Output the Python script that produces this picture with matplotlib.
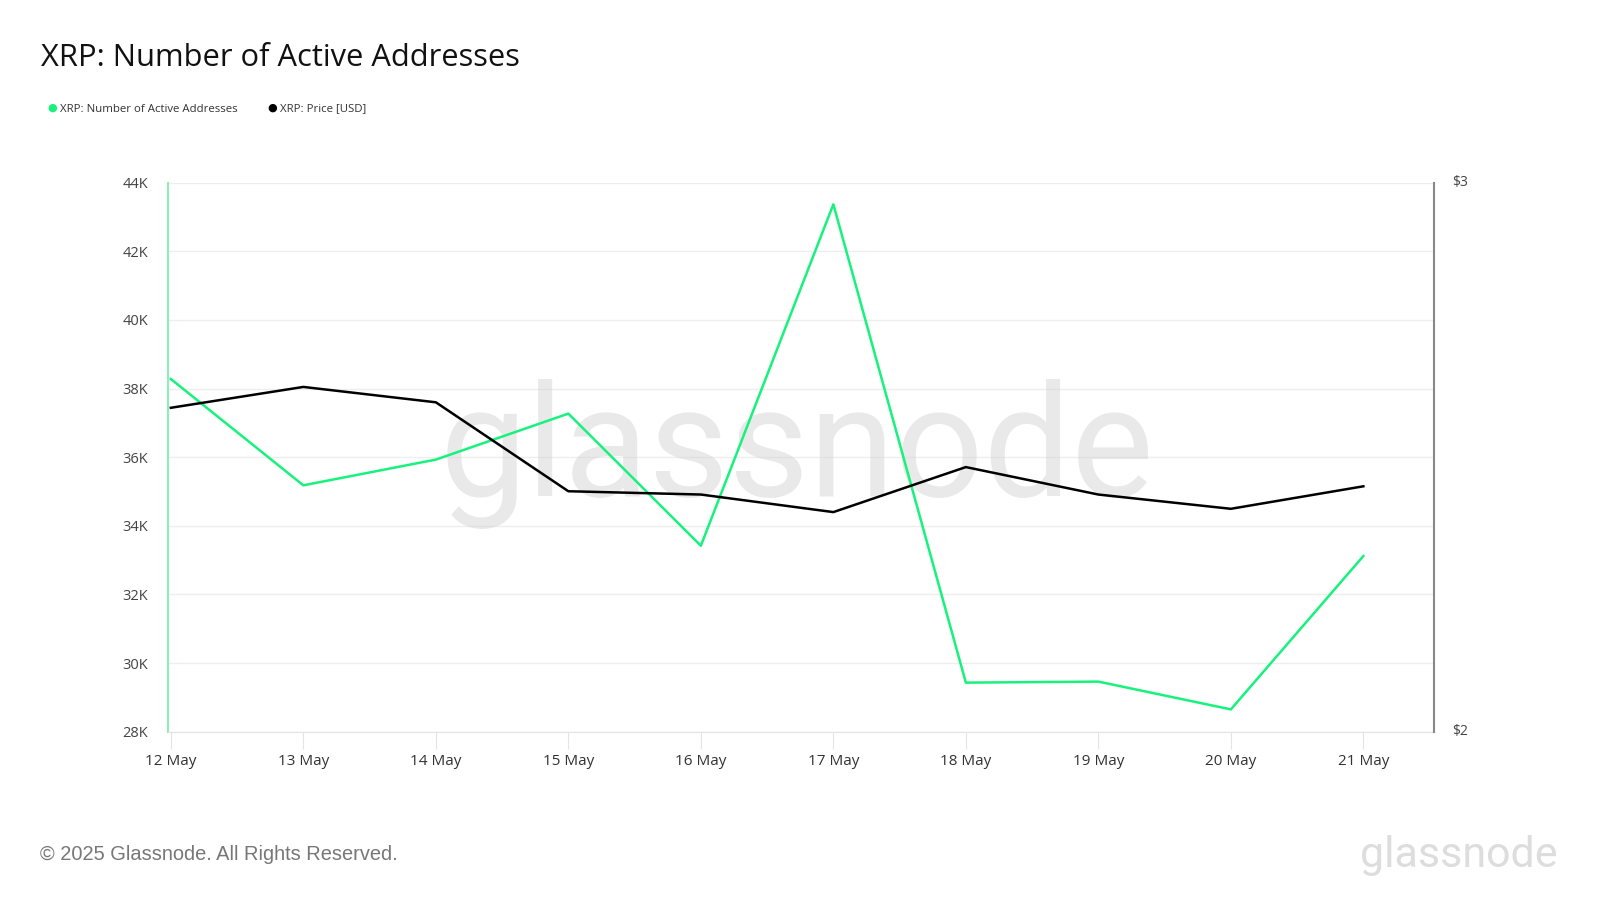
import matplotlib
matplotlib.use("Agg")
import matplotlib.pyplot as plt
from matplotlib.ticker import FuncFormatter

dates = ["12 May", "13 May", "14 May", "15 May", "16 May", "17 May", "18 May", "19 May", "20 May", "21 May"]
active_addresses = [38280, 35180, 35930, 37270, 33420, 43370, 29430, 29460, 28650, 33120]
price_usd = [2.59, 2.628, 2.600, 2.438, 2.432, 2.400, 2.482, 2.432, 2.406, 2.447]
left_ticks = [28000, 30000, 32000, 34000, 36000, 38000, 40000, 42000, 44000]
right_ticks = [2, 3]

GREEN = "#17f27d"
BLACK = "#000000"
FONT = ["Open Sans", "DejaVu Sans"]
LOGO = ["Roboto", "DejaVu Sans"]

fig = plt.figure(figsize=(16, 9), dpi=100)
ax = fig.add_axes([0.1047, 0.187, 0.7913, 0.61])
ax2 = ax.twinx()

x = list(range(len(dates)))

# watermark
ax.text(0.497, 0.505, "glassnode", transform=ax.transAxes, ha="center", va="center",
        fontsize=112, color="#d0d0d0", alpha=0.45, family=LOGO, fontweight="normal", zorder=1)

ax.plot(x, active_addresses, color=GREEN, lw=1.8, zorder=3)
ax2.plot(x, price_usd, color=BLACK, lw=1.8, zorder=3)

ax.set_xlim(-0.025, 9.53)
ax.set_ylim(28000, 44000)
ax2.set_ylim(2, 3)

ax.set_yticks(left_ticks)
ax.yaxis.set_major_formatter(FuncFormatter(lambda v, p: f"{int(v/1000)}K"))
ax2.set_yticks(right_ticks)
ax2.yaxis.set_major_formatter(FuncFormatter(lambda v, p: f"${int(v)}"))

ax.set_xticks(x)
ax.set_xticklabels(dates)

ax.grid(axis="y", color="#eeeeee", lw=1, zorder=0)
ax.set_axisbelow(True)

for a in (ax, ax2):
    a.spines["top"].set_visible(False)
ax.spines["left"].set_color("#8ef0b8")
ax.spines["left"].set_linewidth(1.5)
ax.spines["right"].set_visible(False)
ax2.spines["left"].set_visible(False)
ax2.spines["bottom"].set_visible(False)
ax2.spines["right"].set_color("#888888")
ax2.spines["right"].set_linewidth(1.5)
ax.spines["bottom"].set_color("#e3e3e3")

ax.tick_params(axis="y", length=0, pad=14, labelsize=10.5, labelcolor="#444444")
ax.tick_params(axis="x", length=12, color="#e3e3e3", pad=4, labelsize=11, labelcolor="#333333")
ax2.tick_params(axis="y", length=0, pad=13, labelsize=10, labelcolor="#444444")
for lbl in ax.get_xticklabels() + ax.get_yticklabels() + ax2.get_yticklabels():
    lbl.set_family(FONT)
for lbl in ax2.get_yticklabels():
    lbl.set_verticalalignment("center")

# title
fig.text(41/1600, 1 - 58/900, "XRP: Number of Active Addresses", ha="left", va="center",
         fontsize=22.2, color="#111111", family=FONT)

# legend
fig.text(52/1600, 1 - 108/900, "●", ha="center", va="center", fontsize=8, color=GREEN, family=FONT)
fig.text(60/1600, 1 - 109/900, "XRP: Number of Active Addresses", ha="left", va="center",
         fontsize=8.2, color="#333333", family=FONT)
fig.text(272/1600, 1 - 108/900, "●", ha="center", va="center", fontsize=8, color=BLACK, family=FONT)
fig.text(280/1600, 1 - 109/900, "XRP: Price [USD]", ha="left", va="center",
         fontsize=8.2, color="#333333", family=FONT)

# footer
fig.text(40/1600, 1 - 855/900, "© 2025 Glassnode. All Rights Reserved.", ha="left", va="center",
         fontsize=14.4, color="#777777", family=["Liberation Sans", "DejaVu Sans"])
fig.text(1558/1600, 1 - 855/900, "glassnode", ha="right", va="center",
         fontsize=31, color="#dddddd", family=LOGO, fontweight="normal")

fig.savefig("out.png", dpi=100, facecolor="white")
